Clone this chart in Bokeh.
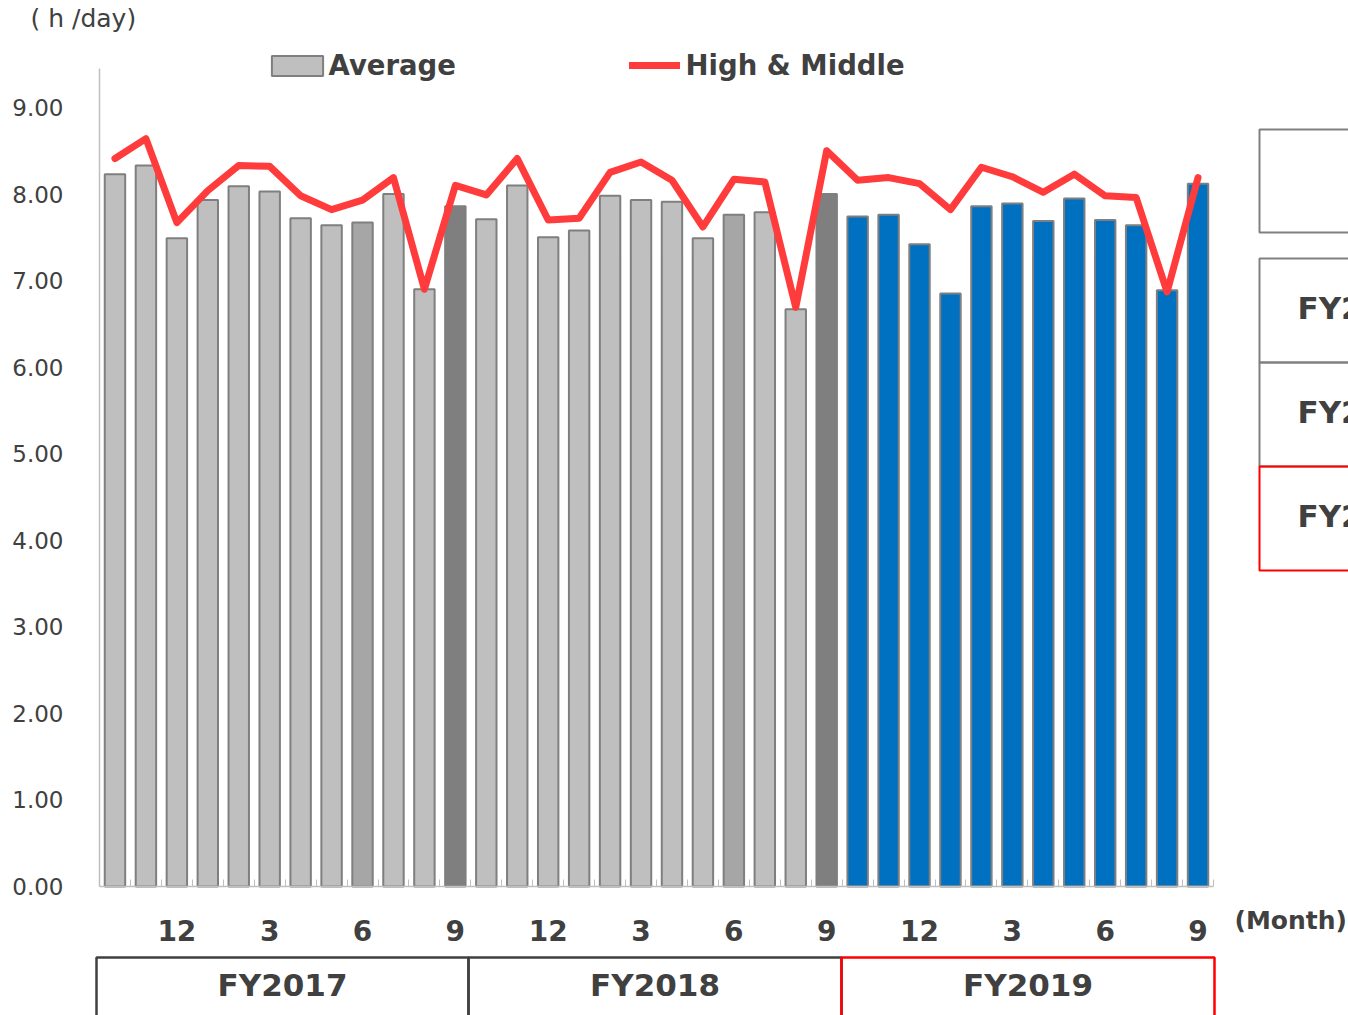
from bokeh.plotting import figure
from bokeh.models import (ColumnDataSource, FixedTicker, Label, BoxAnnotation, LinearAxis,
                          Legend, LegendItem, NumeralTickFormatter, Range1d)
from bokeh.embed import file_html
from bokeh.resources import INLINE

# ---------------- data ----------------
fiscal_years = ["FY2017", "FY2018", "FY2019"]
months = ["10", "11", "12", "1", "2", "3", "4", "5", "6", "7", "8", "9",
          "10", "11", "12", "1", "2", "3", "4", "5", "6", "7", "8", "9",
          "10", "11", "12", "1", "2", "3", "4", "5", "6", "7", "8", "9"]
fy_of_bar = ["FY2017"] * 12 + ["FY2018"] * 12 + ["FY2019"] * 12
average = [8.23, 8.33, 7.49, 7.93, 8.09, 8.03, 7.72, 7.64, 7.67, 8.00, 6.90, 7.86,
           7.71, 8.10, 7.50, 7.58, 7.98, 7.93, 7.91, 7.49, 7.76, 7.79, 6.67, 8.00,
           7.74, 7.76, 7.42, 6.85, 7.86, 7.89, 7.69, 7.95, 7.70, 7.64, 6.89, 8.12]
high_middle = [8.41, 8.64, 7.67, 8.04, 8.33, 8.32, 7.98, 7.82, 7.93, 8.19, 6.90, 8.10,
               7.99, 8.41, 7.70, 7.72, 8.25, 8.37, 8.16, 7.62, 8.17, 8.14, 6.69, 8.50,
               8.16, 8.19, 8.12, 7.82, 8.31, 8.20, 8.02, 8.23, 7.98, 7.96, 6.87, 8.19]
labelled_months = ["12", "3", "6", "9"]
y_ticks = [0, 1, 2, 3, 4, 5, 6, 7, 8, 9]
y_axis_top = 9.45

# ---------------- layout / styles ----------------
W, H = 1348, 1015
TEXT = "#404040"
FONT = "DejaVu Sans"
FRAME_L, FRAME_R = 99, 1213      # pixel edges of the plotting area
ZERO_Y, NINE_Y = 886, 107        # pixel rows of 0.00 and 9.00

n = len(average)
XS = (FRAME_R - FRAME_L) / n
x_start = 0.5 - FRAME_L / XS
x_end = x_start + W / XS
YS = (ZERO_Y - NINE_Y) / 9
y_end = ZERO_Y / YS
y_start = y_end - H / YS


def dx(px):
    return x_start + px / XS


def dy(py):
    return y_end - py / YS


def bar_color(fy, m):
    if fy == "FY2019":
        return "#0070c0"
    if m == "6":
        return "#a6a6a6"
    if m == "9":
        return "#7f7f7f"
    return "#bfbfbf"


xs = list(range(1, n + 1))
colors = [bar_color(f, m) for f, m in zip(fy_of_bar, months)]
src = ColumnDataSource(dict(x=xs, avg=average, hm=high_middle, color=colors))

p = figure(width=W, height=H, x_range=Range1d(x_start, x_end), y_range=Range1d(y_start, y_end),
           output_backend="svg", toolbar_location=None, title=None,
           x_axis_location=None, y_axis_location=None,
           min_border=0, min_border_left=0, min_border_right=0,
           min_border_top=0, min_border_bottom=0)
p.outline_line_color = None
p.grid.visible = False
p.background_fill_color = "white"
p.border_fill_color = "white"

bars = p.vbar(x="x", top="avg", bottom=0, width=0.66, source=src, fill_color="color",
              line_color="#7f7f7f", line_width=2)
line = p.line(x="x", y="hm", source=src, line_color="#ff3b3b", line_width=7,
              line_cap="round", line_join="round")

# x axis (month numbers) sitting at y = 0
xt = [i for i, m in zip(xs, months) if m in labelled_months]
xa = LinearAxis(fixed_location=0, bounds=(0.5, n + 0.5),
                ticker=FixedTicker(ticks=xt, minor_ticks=[x - 0.5 for x in xs] + [n + 0.5]),
                major_label_overrides={i: months[i - 1] for i in xt})
xa.major_tick_in = 0
xa.major_tick_out = 0
xa.minor_tick_in = 7
xa.minor_tick_out = 0
xa.minor_tick_line_color = "#bfbfbf"
xa.axis_line_color = "#bfbfbf"
xa.axis_line_width = 1.5
xa.major_label_text_font = FONT
xa.major_label_text_font_style = "bold"
xa.major_label_text_font_size = "28px"
xa.major_label_text_color = TEXT
xa.major_label_standoff = 33
p.add_layout(xa, "below")

# y axis sitting at the left edge of the bars
ya = LinearAxis(fixed_location=0.5, bounds=(0, y_axis_top), ticker=FixedTicker(ticks=y_ticks),
                formatter=NumeralTickFormatter(format="0.00"))
ya.major_tick_in = 0
ya.major_tick_out = 0
ya.minor_tick_in = 0
ya.minor_tick_out = 0
ya.axis_line_color = "#bfbfbf"
ya.axis_line_width = 1.5
ya.major_label_text_font = FONT
ya.major_label_text_font_size = "23px"
ya.major_label_text_color = TEXT
ya.major_label_standoff = 36
p.add_layout(ya, "left")

# legends (one per item so each keeps its own key size)
leg_style = dict(orientation="horizontal", padding=0, margin=0,
                 border_line_alpha=0, background_fill_alpha=0,
                 label_text_font=FONT, label_text_font_style="bold",
                 label_text_font_size="27.5px", label_text_color=TEXT)
legend_avg = Legend(items=[LegendItem(label="Average", renderers=[bars], index=0)],
                    location=(264.6, 934), glyph_width=64, glyph_height=25,
                    label_standoff=0, **leg_style)
legend_hm = Legend(items=[LegendItem(label="High & Middle", renderers=[line])],
                   location=(628.5, 934), glyph_width=51, glyph_height=20,
                   label_standoff=6, **leg_style)
p.add_layout(legend_avg)
p.add_layout(legend_hm)


def label(px, py, text, size, bold=False, align="left"):
    p.add_layout(Label(x=dx(px), y=dy(py), text=text,
                       text_font=FONT, text_font_size=size,
                       text_font_style="bold" if bold else "normal",
                       text_color=TEXT, text_align=align, text_baseline="middle"))


def box(l, r, t, b, color, w=2):
    p.add_layout(BoxAnnotation(left=dx(l), right=dx(r), top=dy(t), bottom=dy(b),
                               fill_alpha=0, line_color=color, line_alpha=1, line_width=w))


label(30, 18, "( h /day)", "25px")
label(1234, 920, "(Month)", "25px", bold=True)

# fiscal-year boxes under the axis
fy_edges = [96, 468, 841, 1214]
for i, fy in enumerate(fiscal_years):
    col = "#ff0000" if fy == "FY2019" else TEXT
    box(fy_edges[i], fy_edges[i + 1], 957, 1040, col, 2.5)
    label((fy_edges[i] + fy_edges[i + 1]) / 2, 984, fy, "31px", bold=True, align="center")

# partial table on the right
box(1259, 1420, 129, 232, "#808080")
right_rows = [(258, 362), (362, 466), (466, 570)]
for (t, b), fy in zip(right_rows, fiscal_years):
    col = "#ff0000" if fy == "FY2019" else "#808080"
    box(1259, 1420, t, b, col)
    label(1297, (t + b) / 2 - 3, fy, "31px", bold=True)

open("out.html", "w").write(file_html(p, INLINE))
